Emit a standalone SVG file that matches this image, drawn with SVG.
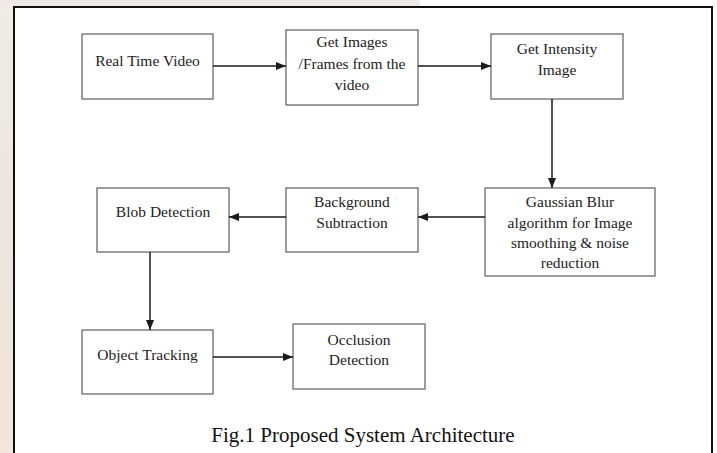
<svg xmlns="http://www.w3.org/2000/svg" width="717" height="453" viewBox="0 0 717 453">
<defs>
<linearGradient id="wm" x1="0" y1="0" x2="0" y2="1">
<stop offset="0" stop-color="#f1ebe6"/>
<stop offset="0.5" stop-color="#ece6de"/>
<stop offset="1" stop-color="#f3e6dc"/>
</linearGradient>
<marker id="ah" viewBox="0 0 10 10" refX="10" refY="5" markerWidth="10" markerHeight="10" markerUnits="userSpaceOnUse" orient="auto">
<path d="M0,1 L10,5 L0,9 Z" fill="#1a1a1a"/>
</marker>
<style>
.box{fill:#ffffff;stroke:#6a6a6a;stroke-width:1.3}
.t{font-size:15.5px;fill:#222;text-anchor:middle}
.cap{font-size:21px;fill:#111;text-anchor:middle}
.c{stroke:#1a1a1a;stroke-width:1.5;fill:none;marker-end:url(#ah)}
</style>
</defs>
<rect x="0" y="0" width="717" height="453" fill="#ffffff"/>
<rect x="0" y="0" width="14" height="453" fill="url(#wm)"/>
<rect x="0" y="0" width="420" height="7" fill="#efe9e4"/>
<rect x="14" y="7" width="698" height="450" fill="#ffffff" stroke="#111" stroke-width="2"/>

<g font-family="Liberation Serif, DejaVu Serif, serif">
<g id="n1"><rect class="box" x="82" y="34" width="131" height="65"/><text class="t" x="147.5" y="66">Real Time Video</text></g>
<g id="n2"><rect class="box" x="286" y="30" width="132" height="75"/><text class="t" x="352" y="47">Get Images</text><text class="t" x="352" y="68.5">/Frames from the</text><text class="t" x="352" y="90">video</text></g>
<g id="n3"><rect class="box" x="491" y="34" width="132" height="65"/><text class="t" x="557" y="54">Get Intensity</text><text class="t" x="557" y="75">Image</text></g>
<g id="n4"><rect class="box" x="485" y="188" width="170" height="88"/><text class="t" x="570" y="207">Gaussian Blur</text><text class="t" x="570" y="228">algorithm for Image</text><text class="t" x="570" y="248">smoothing &amp; noise</text><text class="t" x="570" y="268">reduction</text></g>
<g id="n5"><rect class="box" x="286" y="188" width="132" height="64"/><text class="t" x="352" y="207">Background</text><text class="t" x="352" y="228">Subtraction</text></g>
<g id="n6"><rect class="box" x="97" y="188" width="132" height="64"/><text class="t" x="163" y="217">Blob Detection</text></g>
<g id="n7"><rect class="box" x="82" y="330" width="131" height="64"/><text class="t" x="147.5" y="360">Object Tracking</text></g>
<g id="n8"><rect class="box" x="293" y="324" width="132" height="65"/><text class="t" x="359" y="345">Occlusion</text><text class="t" x="359" y="365">Detection</text></g>
<text class="cap" x="363" y="442">Fig.1 Proposed System Architecture</text>
</g>

<g id="connectors">
<line class="c" x1="213" y1="66" x2="286" y2="66"/>
<line class="c" x1="418" y1="66" x2="491" y2="66"/>
<line class="c" x1="552" y1="99" x2="552" y2="188"/>
<line class="c" x1="485" y1="217" x2="418" y2="217"/>
<line class="c" x1="286" y1="217" x2="229" y2="217"/>
<line class="c" x1="150" y1="252" x2="150" y2="330"/>
<line class="c" x1="213" y1="357" x2="293" y2="357"/>
</g>
</svg>
